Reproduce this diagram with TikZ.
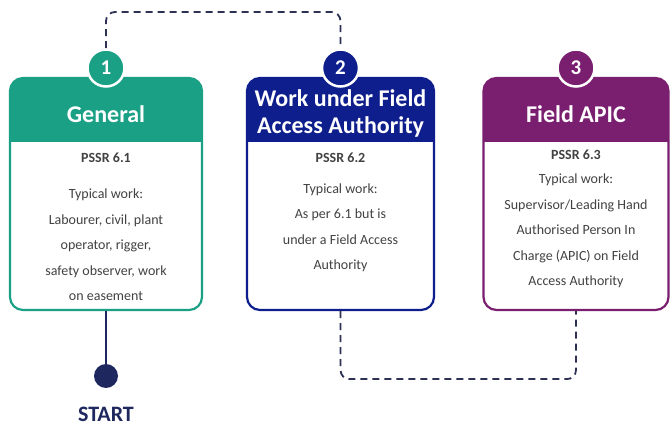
\documentclass[tikz,border=0pt]{standalone}
\usepackage{fontspec}
\setmainfont{Carlito}
\usetikzlibrary{calc}

\definecolor{genteal}{RGB}{26,160,133}
\definecolor{faanavy}{RGB}{14,30,140}
\definecolor{apicpurple}{RGB}{122,30,112}
\definecolor{linkgrey}{RGB}{45,50,85}
\definecolor{startnavy}{RGB}{30,40,95}
\definecolor{bodygrey}{RGB}{66,66,66}

\tikzset{
	card/.style={draw=#1, line width=2.2pt, rounded corners=13pt, minimum height=232pt, inner sep=0pt,
		path picture={\fill[#1, sharp corners] (path picture bounding box.north west) rectangle ([yshift=-64pt]path picture bounding box.north east);}},
	badge/.style={circle, fill=#1, draw=white, line width=2.5pt, minimum size=37pt, inner sep=0pt, text=white, font=\fontsize{21}{21}\selectfont\bfseries},
	heading/.style={text=white, font=\fontsize{24}{27}\selectfont\bfseries, align=center},
	pssr/.style={text=bodygrey, font=\fontsize{14}{16}\selectfont\bfseries},
	bodytext/.style={text=bodygrey, font=\fontsize{14}{25.5}\selectfont, align=center},
	link/.style={draw=linkgrey, line width=1.8pt, dash pattern=on 7pt off 5pt, rounded corners=9pt}
}

\begin{document}
\begin{tikzpicture}[x=1pt, y=-1pt]
			%%%%% START %%%%%
			
			\fill[white] (0, 0) rectangle (670, 430);
			\useasboundingbox (0, 0) rectangle (670, 430);
			
			% cards
			\node[card=genteal, minimum width=192pt] (b1) at (106, 194) {};
			\node[card=faanavy, minimum width=187pt] (b2) at (340.5, 194) {};
			\node[card=apicpurple, minimum width=185pt] (b3) at (576, 194) {};
			
			% headings
			\node[heading] (h1) at (106, 114) {General};
			\node[heading] (h2) at (340.5, 113) {Work under Field\\Access Authority};
			\node[heading] (h3) at (576, 114) {Field APIC};
			
			% card texts
			\node[pssr] (p1) at (106, 158) {PSSR 6.1};
			\node[bodytext] (t1) at (106, 245) {Typical work:\\Labourer, civil, plant\\operator, rigger,\\safety observer, work\\on easement};
			
			\node[pssr] (p2) at (340.5, 158) {PSSR 6.2};
			\node[bodytext] (t2) at (340.5, 228) {Typical work:\\As per 6.1 but is\\under a Field Access\\Authority};
			
			\node[pssr] (p3) at (576, 155) {PSSR 6.3};
			\node[bodytext] (t3) at (576, 231) {Typical work:\\Supervisor/Leading Hand\\Authorised Person In\\Charge (APIC) on Field\\Access Authority};
			
			% badges
			\node[badge=genteal] (n1) at (106, 68) {1};
			\node[badge=faanavy] (n2) at (340.5, 68) {2};
			\node[badge=apicpurple] (n3) at (576, 68) {3};
			
			% dashed links
			\draw[link] (n1.north) -- (n1.north |- 0, 12) -| (n2.north);
			\draw[link] (b2.south) -- ++(0, 68) -| (b3.south);
			
			% start
			\node[circle, fill=startnavy, minimum size=24pt, inner sep=0pt] (s) at (106, 376) {};
			\draw[startnavy, line width=2pt] (b1.south) -- (s);
			\node[text=startnavy, font=\fontsize{22}{22}\selectfont\bfseries] (st) at (106, 414) {START};
			
			%%%%% END %%%%%
\end{tikzpicture}
\end{document}
